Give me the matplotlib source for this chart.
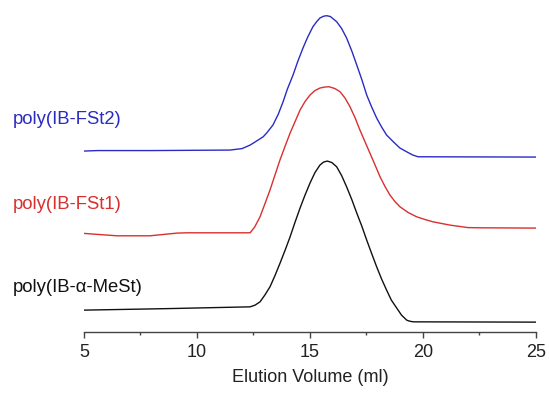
import numpy as np
import matplotlib
matplotlib.use('Agg')
import matplotlib.pyplot as plt
from matplotlib.ticker import MultipleLocator

plt.rcParams['font.family'] = ['Liberation Sans', 'DejaVu Sans']

# elution volume (ml) and detector signal (stacked, a.u.)
x_fst2 = [5.0, 5.6, 8.0, 11.46, 12.0, 12.35, 12.6, 12.93, 13.1, 13.36, 13.6, 13.81, 14.0,
          14.25, 14.45, 14.69, 14.9, 15.13, 15.3, 15.44, 15.6, 15.74, 15.9, 16.18, 16.4,
          16.62, 16.85, 17.07, 17.3, 17.51, 17.73, 17.95, 18.17, 18.39, 18.7, 18.98,
          19.3, 19.55, 19.78, 25.0]
y_fst2 = [181, 181.5, 181.5, 182, 183.5, 187, 190.5, 195.3, 199.5, 207, 218, 230.3, 243,
          257, 270, 284, 295, 305.3, 310.5, 314, 315.8, 316.3, 315.5, 310.3, 303.5,
          294, 281, 267, 252, 237, 225, 214, 205, 197, 190, 184,
          180, 177, 175.3, 175]

x_fst1 = [5.0, 6.46, 7.92, 8.67, 9.12, 9.56, 12.35, 12.55, 12.79, 13.0, 13.23, 13.45,
          13.67, 13.9, 14.12, 14.35, 14.56, 14.78, 15.0, 15.22, 15.44, 15.65, 15.84,
          16.1, 16.33, 16.55, 16.77, 17.0, 17.21, 17.43, 17.65, 17.88, 18.1, 18.32,
          18.54, 18.76, 18.98, 19.35, 19.72, 20.1, 20.44, 21.19, 21.99, 22.52, 25.0]
y_fst1 = [98.7, 96.3, 96.3, 98, 99, 99.3, 99.3, 105, 115.3, 128, 142, 157,
          172, 186, 199, 211, 222, 230.5, 237, 241.5, 244, 245, 245.3,
          243.5, 240.3, 234, 225.3, 214, 202, 190.5, 179, 167, 155.3, 145.5,
          137, 130.5, 125.3, 119.5, 115.3, 112.5, 110.3, 107, 104.5, 104.3, 104]

x_mest = [5.0, 8.67, 12.35, 12.57, 12.79, 13.0, 13.23, 13.45, 13.67, 13.9, 14.12, 14.34,
          14.56, 14.78, 15.0, 15.22, 15.44, 15.6, 15.77, 15.97, 16.18, 16.4, 16.62, 16.85,
          17.07, 17.3, 17.51, 17.73, 17.95, 18.17, 18.39, 18.6, 18.84, 19.05, 19.28,
          19.4, 19.57, 25.0]
y_mest = [22, 23.5, 25.3, 27, 30.3, 37, 45.3, 56.5, 68.7, 82, 95.3, 110,
          124, 137, 149, 159.5, 167, 170, 171, 169.5, 165.3, 156.5, 145.3, 132.5,
          119, 105.5, 92, 78.5, 65.3, 53, 42, 32, 24, 17, 12,
          11, 10.3, 10]

labels = ['poly(IB-FSt2)', 'poly(IB-FSt1)', 'poly(IB-\u03b1-MeSt)']
colors = ['#2b2bc4', '#d8302f', '#111111']
label_y = [208, 123, 40]

fig = plt.figure(figsize=(5.49, 3.94), dpi=100)
ax = fig.add_axes([0.153, 0.157, 0.8233, 0.843])

for xs, ys, c in zip([x_fst2, x_fst1, x_mest], [y_fst2, y_fst1, y_mest], colors):
    ax.plot(xs, ys, color=c, lw=1.0)

for lab, c, ly in zip(labels, colors, label_y):
    ax.text(1.85, ly, lab, color=c, fontsize=13.3, ha='left', va='baseline', clip_on=False)

ax.set_xlim(5, 25)
ax.set_ylim(0, 332)
ax.xaxis.set_major_locator(MultipleLocator(5))
ax.xaxis.set_minor_locator(MultipleLocator(2.5))
ax.tick_params(axis='x', which='major', direction='out', length=4.5, width=1,
               color='#444444', labelsize=13, labelcolor='#222222', pad=4)
ax.tick_params(axis='x', which='minor', direction='out', length=2.5, width=1, color='#444444')
ax.set_yticks([])
for s in ['left', 'top', 'right']:
    ax.spines[s].set_visible(False)
ax.spines['bottom'].set_color('#444444')
ax.spines['bottom'].set_linewidth(1)
ax.set_xlabel('Elution Volume (ml)', fontsize=13, color='#222222', labelpad=6)

fig.savefig('out.png', dpi=100)
